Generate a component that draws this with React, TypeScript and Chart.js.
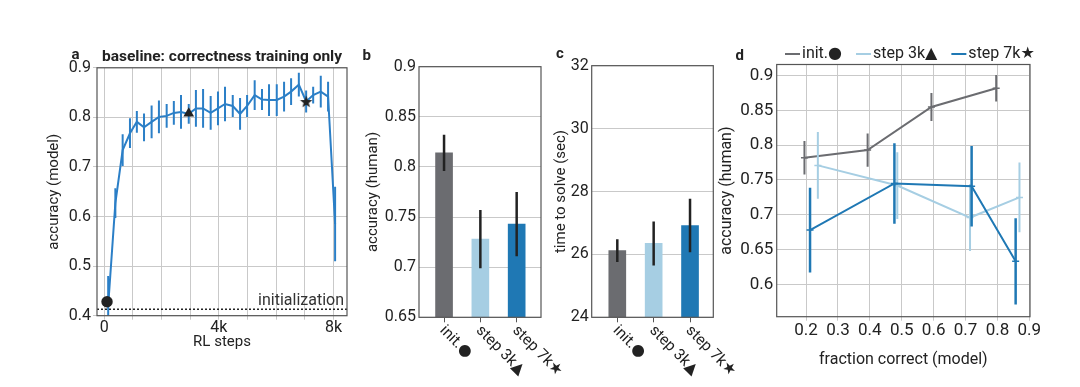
import React, { useEffect, useRef } from 'react';
import { Chart, registerables } from 'chart.js';

Chart.register(...registerables);

const FONT = "Roboto, 'DejaVu Sans', sans-serif";
const TEXT = '#222222';
const GRID = '#c9c9c9';
const SPINE = '#555555';
const BLUE_A = '#2b7fc7';
const C_INIT = '#6b6c70';
const C_3K = '#a6cee3';
const C_7K = '#1f78b4';
const CW = 1080;
const CH = 387;

// ---------- panel a : model accuracy during RL ----------
const rlSteps = [140, 390, 645, 900, 1140, 1390, 1655, 1910, 2180, 2430, 2680, 2950, 3200, 3450, 3715, 3970,
  4215, 4485, 4740, 4985, 5250, 5505, 5750, 6020, 6275, 6520, 6790, 7045, 7290, 7555, 7810, 8055];
const rlAcc = [0.42, 0.627, 0.734, 0.768, 0.791, 0.780, 0.791, 0.801, 0.803, 0.809, 0.811, 0.807, 0.818, 0.818,
  0.809, 0.818, 0.827, 0.823, 0.807, 0.823, 0.845, 0.836, 0.835, 0.835, 0.842, 0.852, 0.866, 0.832, 0.845,
  0.852, 0.842, 0.585];
const rlErr = [0.06, 0.03, 0.032, 0.03, 0.022, 0.028, 0.033, 0.033, 0.024, 0.024, 0.034, 0.02, 0.037, 0.039,
  0.034, 0.034, 0.035, 0.022, 0.032, 0.022, 0.03, 0.021, 0.032, 0.032, 0.03, 0.027, 0.024, 0.022, 0.017,
  0.032, 0.03, 0.075];
const initAcc = 0.413;
const markerSteps = [100, 2950, 7045];
const markerAcc = [0.428, 0.808, 0.832];
const stepGrid = [0, 1000, 2000, 3000, 4000, 5000, 6000, 7000, 8000];
const stepTickLabels = ['0', '', '', '', '4k', '', '', '', '8k'];
const modelAccTicks = [0.4, 0.5, 0.6, 0.7, 0.8, 0.9];

// ---------- panels b, c ----------
const checkpoints = ['init.\u25CF', 'step 3k\u25B2', 'step 7k\u2605'];
const checkpointPos = [0, 1, 2];
const humanAcc = [0.814, 0.728, 0.743];
const humanAccErr = [0.018, 0.029, 0.032];
const humanAccTicks = [0.65, 0.7, 0.75, 0.8, 0.85, 0.9];
const solveTime = [26.12, 26.35, 26.92];
const solveTimeErr = [0.36, 0.7, 0.85];
const solveTimeTicks = [24, 26, 28, 30, 32];

// ---------- panel d ----------
const fracInit = [0.195, 0.393, 0.593, 0.796];
const accInit = [0.782, 0.793, 0.855, 0.882];
const errInit = [0.024, 0.024, 0.02, 0.019];
const frac3k = [0.237, 0.486, 0.714, 0.869];
const acc3k = [0.771, 0.742, 0.696, 0.725];
const err3k = [0.048, 0.048, 0.048, 0.05];
const frac7k = [0.2125, 0.477, 0.719, 0.857];
const acc7k = [0.678, 0.745, 0.741, 0.633];
const err7k = [0.061, 0.058, 0.058, 0.062];
const fracTicks = [0.2, 0.3, 0.4, 0.5, 0.6, 0.7, 0.8, 0.9];
const humanAccTicksD = [0.6, 0.65, 0.7, 0.75, 0.8, 0.85, 0.9];
const legendLabels = ['init.\u25CF', 'step 3k\u25B2', 'step 7k\u2605'];

const BAR_COLORS = [C_INIT, C_3K, C_7K];

function makeStar(r: number, color: string) {
  const c = document.createElement('canvas');
  const s = Math.ceil(r * 2 + 2);
  c.width = s;
  c.height = s;
  const g = c.getContext('2d')!;
  g.fillStyle = color;
  g.beginPath();
  for (let i = 0; i < 10; i++) {
    const ang = -Math.PI / 2 + (i * Math.PI) / 5;
    const rr = i % 2 === 0 ? r : r * 0.42;
    const x = s / 2 + rr * Math.cos(ang);
    const y = s / 2 + rr * Math.sin(ang) + 0.6;
    if (i === 0) g.moveTo(x, y);
    else g.lineTo(x, y);
  }
  g.closePath();
  g.fill();
  return c;
}

const framePlugin = {
  id: 'frame',
  afterDatasetsDraw(chart: any) {
    const { ctx, chartArea: a } = chart;
    ctx.save();
    ctx.strokeStyle = SPINE;
    ctx.lineWidth = 1.2;
    ctx.strokeRect(a.left, a.top, a.right - a.left, a.bottom - a.top);
    ctx.restore();
  },
};

const errorBarPlugin = {
  id: 'errorBars',
  afterDatasetDraw(chart: any, args: any) {
    const ds: any = chart.data.datasets[args.index];
    if (!ds.errs) return;
    const meta = args.meta;
    const yScale = chart.scales[meta.yAxisID];
    const { ctx, chartArea: a } = chart;
    ctx.save();
    ctx.beginPath();
    ctx.rect(a.left, a.top, a.right - a.left, a.bottom - a.top);
    ctx.clip();
    ctx.strokeStyle = ds.errColor;
    ctx.lineWidth = ds.errWidth;
    meta.data.forEach((el: any, i: number) => {
      const v = ds.data[i].y;
      const e = ds.errs[i];
      ctx.beginPath();
      ctx.moveTo(el.x, yScale.getPixelForValue(v - e));
      ctx.lineTo(el.x, yScale.getPixelForValue(v + e));
      ctx.stroke();
    });
    ctx.restore();
  },
};

const tickFont = (size: number) => ({ family: FONT, size, lineHeight: 1 });

function setTicks(values: number[]) {
  return (s: any) => {
    s.ticks = values.map((v) => ({ value: v }));
  };
}

function rotatedLabelsPlugin(id: string) {
  return {
    id,
    afterDraw(chart: any) {
      const { ctx, chartArea: a } = chart;
      const xs = chart.scales.x;
      ctx.save();
      ctx.fillStyle = TEXT;
      ctx.font = `15.5px ${FONT}`;
      ctx.textAlign = 'left';
      ctx.textBaseline = 'middle';
      checkpoints.forEach((lab, i) => {
        const x = xs.getPixelForValue(checkpointPos[i]);
        ctx.save();
        ctx.translate(x - 2, a.bottom + 11);
        ctx.rotate(Math.PI / 4);
        ctx.fillText(lab, 0, 0);
        ctx.restore();
      });
      ctx.restore();
    },
  };
}

function textPlugin(id: string, items: { t: string; x: number; y: number; font: string; align?: CanvasTextAlign }[]) {
  return {
    id,
    afterDraw(chart: any) {
      const { ctx } = chart;
      ctx.save();
      ctx.fillStyle = TEXT;
      ctx.textBaseline = 'alphabetic';
      items.forEach((it) => {
        ctx.font = it.font;
        ctx.textAlign = it.align || 'left';
        ctx.fillText(it.t, it.x, it.y);
      });
      ctx.restore();
    },
  };
}

const baseOptions = {
  responsive: false,
  animation: false as const,
  events: [] as any[],
};

function buildA(canvas: HTMLCanvasElement) {
  const star = makeStar(6.5, '#222222');
  const initLabel = {
    id: 'initLabel',
    afterDraw(chart: any) {
      const { ctx, chartArea: a } = chart;
      const y = chart.scales.y.getPixelForValue(initAcc);
      ctx.save();
      ctx.fillStyle = '#333333';
      ctx.font = `16px ${FONT}`;
      ctx.textAlign = 'right';
      ctx.textBaseline = 'alphabetic';
      ctx.fillText('initialization', a.right - 3, y - 4);
      ctx.restore();
    },
  };
  return new Chart(canvas, {
    type: 'line',
    data: {
      datasets: [
        {
          label: 'checkpoints',
          data: markerSteps.map((x, i) => ({ x, y: markerAcc[i] })),
          showLine: false,
          pointStyle: ['circle', 'triangle', star] as any,
          pointRadius: [5.7, 6.2, 7],
          pointBackgroundColor: '#222222',
          pointBorderColor: '#222222',
          pointBorderWidth: 0,
        },
        {
          label: 'accuracy (model)',
          data: rlSteps.map((x, i) => ({ x, y: rlAcc[i] })),
          borderColor: BLUE_A,
          borderWidth: 2,
          pointRadius: 0,
          tension: 0,
          errs: rlErr,
          errColor: BLUE_A,
          errWidth: 2,
        } as any,
        {
          label: 'initialization',
          data: [{ x: -250, y: initAcc }, { x: 8470, y: initAcc }],
          borderColor: '#222222',
          borderWidth: 1.5,
          borderDash: [2, 2],
          pointRadius: 0,
        },
      ],
    },
    options: {
      ...baseOptions,
      layout: { padding: { left: 46.5, right: CW - 347, top: 67.8, bottom: CH - 349.5 } },
      plugins: { legend: { display: false }, tooltip: { enabled: false } },
      scales: {
        x: {
          type: 'linear',
          min: -250,
          max: 8470,
          afterFit: (s: any) => { s.height = 33.8; },
          afterBuildTicks: setTicks(stepGrid),
          ticks: {
            autoSkip: false,
            maxRotation: 0,
            padding: 0,
            color: TEXT,
            font: tickFont(16),
            callback: (_v: any, i: number) => stepTickLabels[i],
          },
          grid: { color: GRID, tickLength: 4 },
          border: { display: false },
          title: { display: true, text: 'RL steps', color: TEXT, font: tickFont(15), padding: 0 },
        },
        y: {
          min: 0.4,
          max: 0.9,
          afterFit: (s: any) => { s.width = 50.5; },
          afterBuildTicks: setTicks(modelAccTicks),
          ticks: { padding: 2, color: TEXT, font: tickFont(16), callback: (v: any) => String(v) },
          grid: { color: GRID, tickLength: 4 },
          border: { display: false },
          title: { display: true, text: 'accuracy (model)', color: TEXT, font: tickFont(15), padding: 0 },
        },
      },
    } as any,
    plugins: [
      framePlugin,
      errorBarPlugin,
      initLabel,
      textPlugin('textA', [
        { t: 'a', x: 71.5, y: 58.5, font: `bold 15px ${FONT}` },
        { t: 'baseline: correctness training only', x: 222, y: 60.5, font: `bold 15.5px ${FONT}`, align: 'center' },
      ]),
    ],
  });
}

function buildBar(
  canvas: HTMLCanvasElement,
  values: number[],
  errs: number[],
  ticks: number[],
  yMin: number,
  yMax: number,
  xMin: number,
  xMax: number,
  area: { left: number; right: number; top: number; bottom: number },
  yTitle: string,
  yTitleCenter: number,
  letter: { t: string; x: number; y: number },
  id: string
) {
  const padLeft = yTitleCenter - 7.5;
  return new Chart(canvas, {
    type: 'bar',
    data: {
      datasets: [
        {
          label: yTitle,
          data: values.map((y, i) => ({ x: checkpointPos[i], y })),
          backgroundColor: BAR_COLORS,
          barThickness: 17,
          errs,
          errColor: '#222222',
          errWidth: 2.5,
        } as any,
      ],
    },
    options: {
      ...baseOptions,
      layout: { padding: { left: padLeft, right: CW - area.right, top: area.top, bottom: CH - area.bottom - 60 } },
      plugins: { legend: { display: false }, tooltip: { enabled: false } },
      scales: {
        x: {
          type: 'linear',
          offset: false,
          min: xMin,
          max: xMax,
          afterFit: (s: any) => { s.height = 60; },
          afterBuildTicks: setTicks(checkpointPos),
          ticks: { display: false },
          grid: { offset: false, drawOnChartArea: false, tickLength: 5, color: SPINE },
          border: { display: false },
        },
        y: {
          min: yMin,
          max: yMax,
          afterFit: (s: any) => { s.width = area.left - padLeft; },
          afterBuildTicks: setTicks(ticks),
          ticks: { padding: 3, color: TEXT, font: tickFont(16), callback: (v: any) => String(v) },
          grid: { color: GRID, drawTicks: false },
          border: { display: false },
          title: { display: true, text: yTitle, color: TEXT, font: tickFont(15), padding: 0 },
        },
      },
    } as any,
    plugins: [
      framePlugin,
      errorBarPlugin,
      rotatedLabelsPlugin(id + 'rot'),
      textPlugin(id + 'txt', [{ t: letter.t, x: letter.x, y: letter.y, font: `bold 15px ${FONT}` }]),
    ],
  });
}

function buildD(canvas: HTMLCanvasElement) {
  const series = [
    { label: legendLabels[2], xs: frac7k, ys: acc7k, es: err7k, color: C_7K, w: 2.5 },
    { label: legendLabels[1], xs: frac3k, ys: acc3k, es: err3k, color: C_3K, w: 2 },
    { label: legendLabels[0], xs: fracInit, ys: accInit, es: errInit, color: C_INIT, w: 2 },
  ];
  const legendPlugin = {
    id: 'legendD',
    afterDraw(chart: any) {
      const { ctx } = chart;
      ctx.save();
      ctx.font = `16px ${FONT}`;
      ctx.textBaseline = 'middle';
      ctx.textAlign = 'left';
      let x = 785;
      const y = 54;
      const order = [2, 1, 0];
      order.forEach((k) => {
        const ds: any = chart.data.datasets[k];
        ctx.strokeStyle = ds.borderColor;
        ctx.lineWidth = 2;
        ctx.beginPath();
        ctx.moveTo(x, y);
        ctx.lineTo(x + 15, y);
        ctx.stroke();
        x += 17;
        ctx.fillStyle = TEXT;
        ctx.fillText(ds.label, x, y);
        x += ctx.measureText(ds.label).width + 14;
      });
      ctx.restore();
    },
  };
  const padLeft = 727 - 8;
  return new Chart(canvas, {
    type: 'line',
    data: {
      datasets: series.map((s) => ({
        label: s.label,
        data: s.xs.map((x, i) => ({ x, y: s.ys[i] })),
        borderColor: s.color,
        borderWidth: 2,
        pointStyle: 'line',
        pointRadius: 3.5,
        pointBorderWidth: 1.5,
        pointBorderColor: s.color,
        tension: 0,
        errs: s.es,
        errColor: s.color,
        errWidth: s.w,
      })) as any,
    },
    options: {
      ...baseOptions,
      layout: { padding: { left: padLeft, right: CW - 1030, top: 64.5, bottom: CH - 368.2 } },
      plugins: { legend: { display: false }, tooltip: { enabled: false } },
      scales: {
        x: {
          type: 'linear',
          min: 0.108,
          max: 0.902,
          afterFit: (s: any) => { s.height = 51.5; },
          afterBuildTicks: setTicks(fracTicks),
          ticks: { autoSkip: false, maxRotation: 0, padding: 2, color: TEXT, font: tickFont(17), callback: (v: any) => String(v) },
          grid: { color: GRID, tickLength: 4 },
          border: { display: false },
          title: { display: true, text: 'fraction correct (model)', color: TEXT, font: tickFont(16), padding: 0 },
        },
        y: {
          min: 0.5534,
          max: 0.9161,
          afterFit: (s: any) => { s.width = 776.7 - padLeft; },
          afterBuildTicks: setTicks(humanAccTicksD),
          ticks: { padding: 3.4, color: TEXT, font: tickFont(17), callback: (v: any) => String(v) },
          grid: { color: GRID, drawTicks: false },
          border: { display: false },
          title: { display: true, text: 'accuracy (human)', color: TEXT, font: tickFont(16), padding: 0 },
        },
      },
    } as any,
    plugins: [
      framePlugin,
      errorBarPlugin,
      legendPlugin,
      textPlugin('textD', [{ t: 'd', x: 735.5, y: 60, font: `bold 15px ${FONT}` }]),
    ],
  });
}

export default function App() {
  const refA = useRef<HTMLCanvasElement>(null);
  const refB = useRef<HTMLCanvasElement>(null);
  const refC = useRef<HTMLCanvasElement>(null);
  const refD = useRef<HTMLCanvasElement>(null);

  useEffect(() => {
    const charts: Chart[] = [];
    charts.push(buildA(refA.current!));
    charts.push(
      buildBar(refB.current!, humanAcc, humanAccErr, humanAccTicks, 0.65, 0.9, -0.69, 2.67,
        { left: 419, right: 541, top: 66.7, bottom: 317.3 }, 'accuracy (human)', 373,
        { t: 'b', x: 362.5, y: 60 }, 'b')
    );
    charts.push(
      buildBar(refC.current!, solveTime, solveTimeErr, solveTimeTicks, 24, 32, -0.704, 2.64,
        { left: 591.7, right: 713.3, top: 65.7, bottom: 317.3 }, 'time to solve (sec)', 561,
        { t: 'c', x: 556, y: 57.5 }, 'c')
    );
    charts.push(buildD(refD.current!));
    return () => charts.forEach((c) => c.destroy());
  }, []);

  const cs: React.CSSProperties = { position: 'absolute', left: 0, top: 0, width: CW, height: CH };
  return (
    <div style={{ position: 'absolute', left: 0, top: 0, width: CW, height: CH, background: '#ffffff' }}>
      <canvas ref={refA} width={CW} height={CH} style={cs} />
      <canvas ref={refB} width={CW} height={CH} style={cs} />
      <canvas ref={refC} width={CW} height={CH} style={cs} />
      <canvas ref={refD} width={CW} height={CH} style={cs} />
    </div>
  );
}
